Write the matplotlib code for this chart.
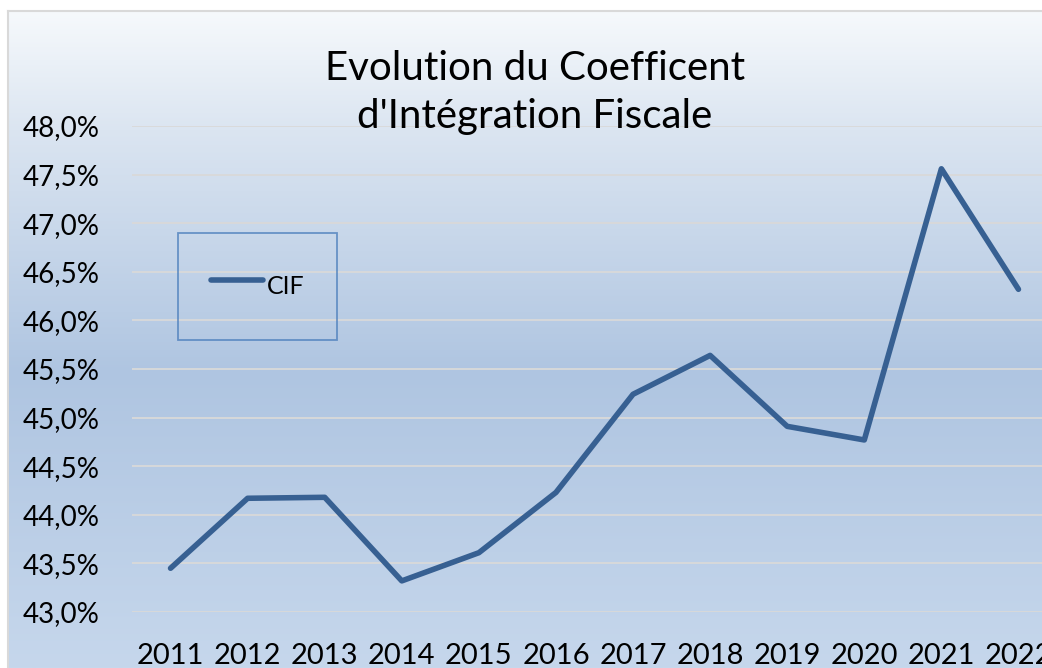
import numpy as np
import matplotlib
matplotlib.use("Agg")
import matplotlib.pyplot as plt
from matplotlib.colors import LinearSegmentedColormap
from matplotlib.ticker import FuncFormatter

years = ["2011", "2012", "2013", "2014", "2015", "2016", "2017", "2018", "2019", "2020", "2021", "2022"]
cif = [43.45, 44.17, 44.18, 43.32, 43.61, 44.23, 45.24, 45.64, 44.91, 44.77, 47.56, 46.32]
yticks = [43.0, 43.5, 44.0, 44.5, 45.0, 45.5, 46.0, 46.5, 47.0, 47.5, 48.0]
title_lines = ["Evolution du Coefficent", "d'Intégration Fiscale"]
series_name = "CIF"

plt.rcParams['font.family'] = ['Lato', 'DejaVu Sans']

W, H = 1042, 668
fig = plt.figure(figsize=(W / 100, H / 100), dpi=100)
fig.patch.set_facecolor('white')

def fx(px):
    return px / W

def fy(py):
    return 1 - py / H

# chart area background gradient
bg = fig.add_axes([fx(8), 0, 1 - fx(8) + 0.02, fy(11)])
cmap = LinearSegmentedColormap.from_list(
    "bg", [(0.0, "#f6f9fc"), (0.18, "#dbe5f1"), (0.55, "#afc5e1"), (1.0, "#c6d7ec")])
grad = np.linspace(0, 1, 256).reshape(-1, 1)
bg.imshow(grad, aspect='auto', cmap=cmap, extent=[0, 1, 0, 1], origin='upper')
bg.set_xlim(0, 1)
bg.set_ylim(0, 1)
for s in ['right', 'bottom']:
    bg.spines[s].set_visible(False)
for s in ['left', 'top']:
    bg.spines[s].set_color('#d9d9d9')
    bg.spines[s].set_linewidth(1.5)
bg.set_xticks([])
bg.set_yticks([])

# plot axes
ax = fig.add_axes([fx(132), fy(612), fx(1057) - fx(132), fy(126) - fy(612)])
ax.patch.set_alpha(0)
x = np.arange(len(years))
ax.plot(x, cif, color='#376092', lw=4.0, solid_capstyle='round',
        solid_joinstyle='round', label=series_name, zorder=3)
ax.set_xlim(-0.5, len(years) - 0.5)
ax.set_ylim(43.0, 48.0)
ax.set_yticks(yticks)
ax.yaxis.set_major_formatter(FuncFormatter(lambda v, p: f"{v:.1f}%".replace('.', ',')))
ax.set_xticks(x)
ax.set_xticklabels(years)
ax.grid(axis='y', color='#d9d9d9', lw=1.3)
ax.set_axisbelow(True)
for s in ax.spines.values():
    s.set_visible(False)
ax.tick_params(axis='y', length=0, pad=23, labelsize=20, labelcolor='black')
ax.tick_params(axis='x', length=0, pad=22, labelsize=21, labelcolor='black')

ax_w = fx(1057) - fx(132)
leg = ax.legend(loc='upper left',
                bbox_to_anchor=(fx(178 - 132) / ax_w, 1 - (233 - 126) / (612 - 126)),
                frameon=True, fancybox=False, fontsize=18, handlelength=2.1,
                handleheight=2.2, handletextpad=0.15, borderpad=1.3, borderaxespad=0)
leg.get_frame().set_edgecolor('#4f81bd')
leg.get_frame().set_facecolor('none')
leg.get_frame().set_linewidth(1.3)

fig.text(fx(535), fy(80), title_lines[0], ha='center', va='baseline', fontsize=29)
fig.text(fx(535), fy(128), title_lines[1], ha='center', va='baseline', fontsize=29)

fig.savefig("out.png", dpi=100)
